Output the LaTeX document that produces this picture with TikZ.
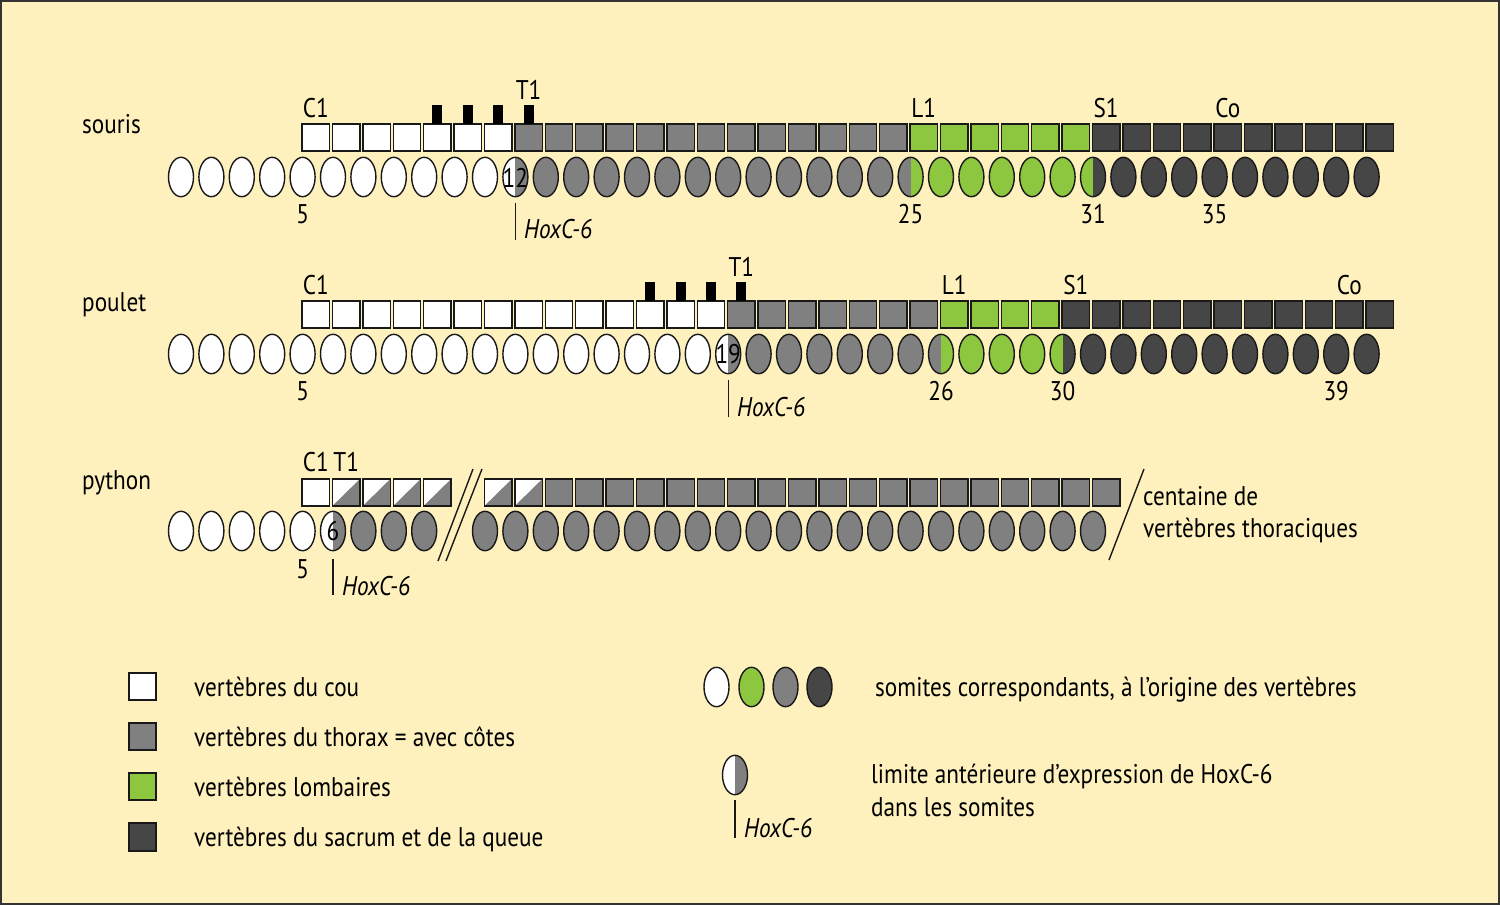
\documentclass[tikz,border=0pt]{standalone}
\usepackage{fontspec}
\setmainfont{PT Sans}[FakeStretch=0.86]
\definecolor{bg}{RGB}{254,241,190}
\definecolor{cgray}{RGB}{128,128,128}
\definecolor{cdark}{RGB}{70,70,70}
\definecolor{cgreen}{RGB}{141,198,63}
\definecolor{cline}{RGB}{25,25,25}
\tikzset{
  lbl/.style={font=\fontsize{27}{32}\selectfont, inner sep=0pt, text=black},
  hox/.style={lbl, font=\fontsize{27}{32}\selectfont\itshape, anchor=base west},
  som/.style={draw=cline, line width=1.4pt},
  vert/.style={draw=cline, line width=1.4pt},
  tick/.style={draw=cline, line width=1.4pt},
  slash/.style={draw=cline, line width=1.4pt}
}
\newcommand\Som[3]{\draw[som, fill=#3] ({181+(#1-1)*30.4},#2) ellipse[x radius=12.5pt, y radius=19.7pt];}
\newcommand\HSom[4]{\pgfmathsetmacro\cx{181+(#1-1)*30.4}%
  \begin{scope}
    \clip (\cx,#2) ellipse[x radius=12.5pt, y radius=19.7pt];
    \fill[#3] (\cx-14,#2-21) rectangle (\cx,#2+21);
    \fill[#4] (\cx,#2-21) rectangle (\cx+14,#2+21);
  \end{scope}
  \draw[som] (\cx,#2) ellipse[x radius=12.5pt, y radius=19.7pt];}
\newcommand\Sq[3]{\draw[vert, fill=#3] ({302+(#1-1)*30.4},#2) rectangle ++(27.5,27);}
\newcommand\DSq[2]{\pgfmathsetmacro\sx{302+(#1-1)*30.4}%
  \fill[white] (\sx,#2) rectangle ++(27.5,27);
  \fill[cgray] (\sx,#2+27) -- (\sx+27.5,#2+27) -- (\sx+27.5,#2) -- cycle;
  \draw[vert] (\sx,#2) rectangle ++(27.5,27);}
\newcommand\Rib[2]{\fill[black] ({302+(#1-1)*30.4+8.75},#2) rectangle ++(10,-19);}
\begin{document}
\begin{tikzpicture}[x=1pt,y=-1pt]
\useasboundingbox (0,0) rectangle (1500,905);
\fill[bg] (0,0) rectangle (1500,905);
\draw[draw=black!80, line width=2pt] (1,1) rectangle (1499,904);

% ---------------- souris ----------------
\node[lbl, anchor=base west] (souris) at (82,133) {souris};
\foreach \k in {1,...,7} {\Sq{\k}{124}{white}}
\foreach \k in {8,...,20} {\Sq{\k}{124}{cgray}}
\foreach \k in {21,...,26} {\Sq{\k}{124}{cgreen}}
\foreach \k in {27,...,36} {\Sq{\k}{124}{cdark}}
\foreach \k in {5,...,8} {\Rib{\k}{124}}
\foreach \i in {1,...,11} {\Som{\i}{177}{white}}
\HSom{12}{177}{white}{cgray}
\foreach \i in {13,...,24} {\Som{\i}{177}{cgray}}
\HSom{25}{177}{cgray}{cgreen}
\foreach \i in {26,...,30} {\Som{\i}{177}{cgreen}}
\HSom{31}{177}{cgreen}{cdark}
\foreach \i in {32,...,40} {\Som{\i}{177}{cdark}}
\node[lbl, anchor=base] (sC1) at (315.75,117) {C1};
\node[lbl, anchor=base] (sT1) at (528.55,99) {T1};
\node[lbl, anchor=base] (sL1) at (923.75,117) {L1};
\node[lbl, anchor=base] (sS1) at (1106.15,117) {S1};
\node[lbl, anchor=base] (sCo) at (1227.75,117) {Co};
\node[lbl, anchor=base] (s5) at (302.6,223) {5};
\node[lbl] (s12) at (515.4,177.5) {12};
\node[lbl, anchor=base] (s25) at (910.6,223) {25};
\node[lbl, anchor=base] (s31) at (1093,223) {31};
\node[lbl, anchor=base] (s35) at (1214.6,223) {35};
\coordinate (sh1) at (515.4,203);
\coordinate (sh2) at (515.4,240);
\draw[tick] (sh1) -- (sh2);
\node[hox] (shox) at (524,238) {HoxC-6};

% ---------------- poulet ----------------
\node[lbl, anchor=base west] (poulet) at (82,311) {poulet};
\foreach \k in {1,...,14} {\Sq{\k}{301}{white}}
\foreach \k in {15,...,21} {\Sq{\k}{301}{cgray}}
\foreach \k in {22,...,25} {\Sq{\k}{301}{cgreen}}
\foreach \k in {26,...,36} {\Sq{\k}{301}{cdark}}
\foreach \k in {12,...,15} {\Rib{\k}{301}}
\foreach \i in {1,...,18} {\Som{\i}{354}{white}}
\HSom{19}{354}{white}{cgray}
\foreach \i in {20,...,25} {\Som{\i}{354}{cgray}}
\HSom{26}{354}{cgray}{cgreen}
\foreach \i in {27,...,29} {\Som{\i}{354}{cgreen}}
\HSom{30}{354}{cgreen}{cdark}
\foreach \i in {31,...,40} {\Som{\i}{354}{cdark}}
\node[lbl, anchor=base] (pC1) at (315.75,294) {C1};
\node[lbl, anchor=base] (pT1) at (741.35,276) {T1};
\node[lbl, anchor=base] (pL1) at (954.15,294) {L1};
\node[lbl, anchor=base] (pS1) at (1075.75,294) {S1};
\node[lbl, anchor=base] (pCo) at (1349.35,294) {Co};
\node[lbl, anchor=base] (p5) at (302.6,400) {5};
\node[lbl] (p19) at (728.2,354.5) {19};
\node[lbl, anchor=base] (p26) at (941,400) {26};
\node[lbl, anchor=base] (p30) at (1062.6,400) {30};
\node[lbl, anchor=base] (p39) at (1336.2,400) {39};
\coordinate (ph1) at (728.2,380);
\coordinate (ph2) at (728.2,417);
\draw[tick] (ph1) -- (ph2);
\node[hox] (phox) at (737,416) {HoxC-6};

% ---------------- python ----------------
\node[lbl, anchor=base west] (python) at (82,489) {python};
\Sq{1}{479}{white}
\foreach \k in {2,...,5} {\DSq{\k}{479}}
\foreach \k in {7,8} {\DSq{\k}{479}}
\foreach \k in {9,...,27} {\Sq{\k}{479}{cgray}}
\foreach \i in {1,...,5} {\Som{\i}{531}{white}}
\HSom{6}{531}{white}{cgray}
\foreach \i in {7,8,9} {\Som{\i}{531}{cgray}}
\foreach \i in {11,...,31} {\Som{\i}{531}{cgray}}
\node[lbl, anchor=base] (yC1) at (315.75,471) {C1};
\node[lbl, anchor=base] (yT1) at (346.15,471) {T1};
\node[lbl, anchor=base] (y5) at (302.6,578) {5};
\node[lbl] (y6) at (333,531.5) {6};
\coordinate (yh1) at (333,559);
\coordinate (yh2) at (333,595);
\draw[tick] (yh1) -- (yh2);
\node[hox] (yhox) at (342,595) {HoxC-6};
\coordinate (b1a) at (438,561); \coordinate (b1b) at (473,469);
\coordinate (b2a) at (446,561); \coordinate (b2b) at (482,469);
\draw[slash] (b1a) -- (b1b);
\draw[slash] (b2a) -- (b2b);
\coordinate (b3a) at (1109,560); \coordinate (b3b) at (1144,469);
\draw[slash] (b3a) -- (b3b);
\node[lbl, anchor=base west] (cent1) at (1143,505) {centaine de};
\node[lbl, anchor=base west] (cent2) at (1143,537) {vertèbres thoraciques};

% ---------------- legend ----------------
\draw[vert, fill=white]  (129,673) rectangle ++(27,27);
\draw[vert, fill=cgray]  (129,723) rectangle ++(27,27);
\draw[vert, fill=cgreen] (129,773) rectangle ++(27,27);
\draw[vert, fill=cdark]  (129,823) rectangle ++(27,28);
\node[lbl, anchor=base west] (lg1) at (194,696) {vertèbres du cou};
\node[lbl, anchor=base west] (lg2) at (194,746) {vertèbres du thorax = avec côtes};
\node[lbl, anchor=base west] (lg3) at (194,796) {vertèbres lombaires};
\node[lbl, anchor=base west] (lg4) at (194,846) {vertèbres du sacrum et de la queue};

\draw[som, fill=white]  (716.5,687) ellipse[x radius=12.5pt, y radius=19.7pt];
\draw[som, fill=cgreen] (751.5,687) ellipse[x radius=12.5pt, y radius=19.7pt];
\draw[som, fill=cgray]  (785.5,687) ellipse[x radius=12.5pt, y radius=19.7pt];
\draw[som, fill=cdark]  (819.5,687) ellipse[x radius=12.5pt, y radius=19.7pt];
\node[lbl, anchor=base west] (lg5) at (875,696) {somites correspondants, à l’origine des vertèbres};

\begin{scope}
  \clip (735,775) ellipse[x radius=12.5pt, y radius=19.7pt];
  \fill[white] (721,754) rectangle (735,796);
  \fill[cgray] (735,754) rectangle (749,796);
\end{scope}
\draw[som] (735,775) ellipse[x radius=12.5pt, y radius=19.7pt];
\coordinate (lh1) at (735,800);
\coordinate (lh2) at (735,838);
\draw[tick] (lh1) -- (lh2);
\node[hox] (lhox) at (744,837) {HoxC-6};
\node[lbl, anchor=base west] (lg6) at (871,783) {limite antérieure d’expression de HoxC-6};
\node[lbl, anchor=base west] (lg7) at (871,816) {dans les somites};
\end{tikzpicture}
\end{document}
